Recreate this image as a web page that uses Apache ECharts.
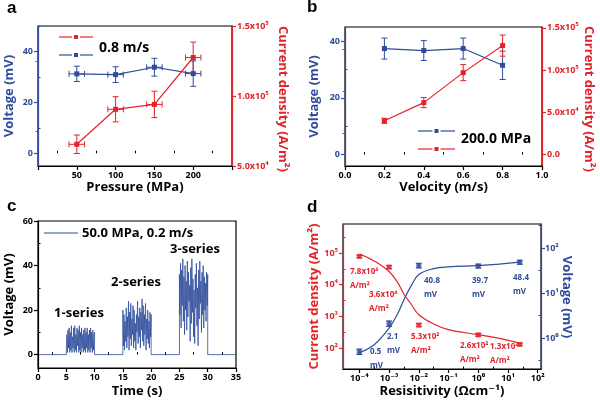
<!DOCTYPE html>
<html><head><meta charset="utf-8">
<script src="https://cdn.jsdelivr.net/npm/echarts@6.0.0/dist/echarts.min.js"></script>
<style>html,body{margin:0;padding:0;background:#fff}#c{width:600px;height:403px}</style>
</head><body><div id="c"></div><script>
// ---------- Panel a ----------
const pressure = [50, 100, 150, 200];
const pressureErr = [10, 10, 10, 10];
const voltageA = [31.2, 30.9, 33.8, 31.3];
const voltageAErr = [3.0, 3.1, 3.5, 5.0];
const currentA = [65500, 90500, 94000, 127500];
const currentAErr = [6600, 9000, 9400, 11000];
const aXLabels = [50, 100, 150, 200];
const aXTicks = [0, 50, 100, 150, 200, 250];
const aXMinor = [25, 75, 125, 175, 225];
const aLeftLabels = [0, 20, 40];
const aLeftTicks = [0, 20, 40];
const aLeftMinor = [10, 30, 50];
const aRightLabels = [50000, 100000, 150000];
const aRightMinor = [75000, 125000];

// ---------- Panel b ----------
const velocity = [0.2, 0.4, 0.6, 0.8];
const voltageB = [37.4, 36.7, 37.4, 31.5];
const voltageBErr = [3.7, 3.5, 3.7, 5.0];
const currentB = [40000, 61500, 97000, 129000];
const currentBErr = [3000, 6000, 9500, 12500];
const bXLabels = [0, 0.2, 0.4, 0.6, 0.8, 1.0];
const bXMinor = [0.1, 0.3, 0.5, 0.7, 0.9];
const bLeftLabels = [0, 20, 40];
const bLeftMinor = [10, 30];
const bRightLabels = [0, 50000, 100000, 150000];
const bRightMinor = [25000, 75000, 125000];

// ---------- Panel c ----------
const burstStarts = [5, 15, 25];
const burstEnds = [10, 20, 30];
const burst1 = [2,9,1,11,3,12,1,10,2,13,1,8,3,12,1,13,2,9,1,12,4,11,1,13,2,10,1,12,3,9,1,11,2,12,1,10,3,12,1,9,2,11,1,12,3,10,1,11,2,9,10];
const burst2 = [20,4,18,2,15,6,21,3,17,8,24,2,19,7,23,4,16,9,22,3,20,6,14,2,18,10,24,5,17,8,21,3,19,11,25,6,22,4,18,9,23,2,16,7,20,5,15,3,19,8,18];
const burst3 = [36,18,41,12,38,22,43,15,35,9,40,20,33,11,42,17,37,24,31,6,39,14,43,19,34,8,29,5,36,21,41,13,30,4,38,16,42,23,33,10,37,18,40,12,35,20,32,15,37,22,36];
const cXLabels = [0, 5, 10, 15, 20, 25, 30, 35];
const cXMinor = [2.5, 7.5, 12.5, 17.5, 22.5, 27.5, 32.5];
const cYLabels = [0, 20, 40, 60];
const cYMinor = [10, 30, 50];
const seriesNames = ['1-series', '2-series', '3-series'];

// ---------- Panel d ----------
const resistivity = [1e-4, 1e-3, 1e-2, 1, 25];
const currentD = [78000, 36000, 530, 260, 130];
const currentDErr = [7000, 4000, 60, 25, 12];
const voltageD = [0.5, 2.1, 40.8, 39.7, 48.4];
const voltageDErr = [0.07, 0.3, 5, 4, 5];
const fitX = [1e-4, 3.16e-4, 1e-3, 2e-3, 3.16e-3, 5.4e-3, 1e-2, 3.16e-2, 0.1, 1, 5.2, 27];
const fitCurrent = [93000, 56000, 26000, 11200, 5000, 2500, 1120, 575, 380, 263, 200, 138];
const fitVoltage = [0.47, 0.71, 1.66, 3.6, 7.1, 14, 25.7, 34.7, 38, 40.7, 44, 49];
const dXLabels = [1e-4, 1e-3, 1e-2, 1e-1, 1e0, 1e1, 1e2];
const dXMinor = [3.16e-4, 3.16e-3, 3.16e-2, 3.16e-1, 3.16, 31.6];
const dLeftLabels = [1e2, 1e3, 1e4, 1e5];
const dLeftMinor = [316, 3160, 31600, 316000];
const dRightLabels = [1, 10, 100];
const dRightMinor = [0.316, 3.16, 31.6, 316];

// ---------- styling ----------
const BLUE = '#2f4c9c', RED = '#e3232a', BLACK = '#000';
const FONT = '"Open Sans", "DejaVu Sans", sans-serif';
const SUP = {'-':'⁻','0':'⁰','1':'¹','2':'²','3':'³','4':'⁴','5':'⁵','6':'⁶','7':'⁷','8':'⁸','9':'⁹'};
function sup(n){ return String(n).split('').map(c => SUP[c]).join(''); }
function sciLabel(v){ if (v === 0) return '0.0'; const e = Math.floor(Math.log10(v) + 1e-9); const m = v / Math.pow(10, e); return m.toFixed(1) + 'x10' + sup(e); }
function powLabel(v){ return '10' + sup(Math.round(Math.log10(v))); }

function axisPair(o) {
  const main = {
    gridIndex: o.grid, type: o.type || 'value', min: o.min, max: o.max, position: o.pos, logBase: 10,
    axisLine: {show: true, onZero: false, lineStyle: {color: o.color, width: 1.2}},
    axisTick: {show: true, customValues: o.ticks || o.labels, length: 4, inside: false, lineStyle: {color: o.color, width: 1.2}},
    axisLabel: {show: true, customValues: o.labels, formatter: o.fmt, color: o.color, fontFamily: FONT, fontWeight: 'bold', fontSize: 9, margin: o.margin || 5},
    splitLine: {show: false},
    name: o.name, nameLocation: 'middle', nameGap: o.nameGap,
    nameTextStyle: {color: o.color, fontFamily: FONT, fontWeight: 'bold', fontSize: 13},
    z: 5
  };
  const minor = {
    gridIndex: o.grid, type: o.type || 'value', min: o.min, max: o.max, position: o.pos, logBase: 10,
    axisLine: {show: false}, axisLabel: {show: false}, splitLine: {show: false},
    axisTick: {show: true, customValues: o.minor, length: 2.5, inside: true, lineStyle: {color: o.color, width: 1}},
    z: 5
  };
  return [main, minor];
}

const xAxis = [].concat(
  axisPair({grid: 0, min: 0, max: 250, pos: 'bottom', color: BLACK, labels: aXLabels, ticks: aXTicks, minor: aXMinor, name: 'Pressure (MPa)', nameGap: 11}),
  axisPair({grid: 1, min: 0, max: 1, pos: 'bottom', color: BLACK, labels: bXLabels, minor: bXMinor, fmt: v => v.toFixed(1), name: 'Velocity (m/s)', nameGap: 11}),
  axisPair({grid: 2, min: 0, max: 35, pos: 'bottom', color: BLACK, labels: cXLabels, minor: cXMinor, name: 'Time (s)', nameGap: 17}),
  axisPair({grid: 3, type: 'log', min: 2.82e-5, max: 129, pos: 'bottom', color: BLACK, labels: dXLabels, minor: dXMinor, fmt: powLabel, name: 'Resisitivity (Ωcm⁻¹)', nameGap: 16})
);
const yAxis = [].concat(
  axisPair({grid: 0, min: -5, max: 50, pos: 'left', color: BLUE, labels: aLeftLabels, ticks: aLeftTicks, minor: aLeftMinor, name: 'Voltage (mV)', nameGap: 22}),
  axisPair({grid: 0, min: 50000, max: 150000, pos: 'right', color: RED, labels: aRightLabels, minor: aRightMinor, fmt: sciLabel}),
  axisPair({grid: 1, min: -4, max: 45, pos: 'left', color: BLUE, labels: bLeftLabels, minor: bLeftMinor, name: 'Voltage (mV)', nameGap: 24}),
  axisPair({grid: 1, min: -13500, max: 151000, pos: 'right', color: RED, labels: bRightLabels, minor: bRightMinor, fmt: sciLabel}),
  axisPair({grid: 2, min: -6, max: 60, pos: 'left', color: BLACK, labels: cYLabels, minor: cYMinor, name: 'Voltage (mV)', nameGap: 22}),
  axisPair({grid: 3, type: 'log', min: 21.7, max: 824000, pos: 'left', color: RED, labels: dLeftLabels, minor: dLeftMinor, fmt: powLabel, name: 'Current density (A/m²)', nameGap: 22}),
  axisPair({grid: 3, type: 'log', min: 0.205, max: 341, pos: 'right', color: BLUE, labels: dRightLabels, minor: dRightMinor, fmt: powLabel, margin: 4})
);

function errSeries(xi, yi, pts, color) {
  return {
    type: 'custom', xAxisIndex: xi, yAxisIndex: yi, data: pts, silent: true, z: 3,
    encode: {x: 0, y: 1},
    renderItem: function (params, api) {
      const x = api.value(0), y = api.value(1), ex = api.value(2), ey = api.value(3);
      const st = {stroke: color, lineWidth: 1, fill: null};
      const ch = [];
      const cap = 3;
      if (ey > 0) {
        const p1 = api.coord([x, y - ey]), p2 = api.coord([x, y + ey]);
        ch.push({type: 'line', shape: {x1: p1[0], y1: p1[1], x2: p2[0], y2: p2[1]}, style: st});
        ch.push({type: 'line', shape: {x1: p1[0] - cap, y1: p1[1], x2: p1[0] + cap, y2: p1[1]}, style: st});
        ch.push({type: 'line', shape: {x1: p2[0] - cap, y1: p2[1], x2: p2[0] + cap, y2: p2[1]}, style: st});
      }
      if (ex > 0) {
        const q1 = api.coord([x - ex, y]), q2 = api.coord([x + ex, y]);
        ch.push({type: 'line', shape: {x1: q1[0], y1: q1[1], x2: q2[0], y2: q2[1]}, style: st});
        ch.push({type: 'line', shape: {x1: q1[0], y1: q1[1] - cap, x2: q1[0], y2: q1[1] + cap}, style: st});
        ch.push({type: 'line', shape: {x1: q2[0], y1: q2[1] - cap, x2: q2[0], y2: q2[1] + cap}, style: st});
      }
      return {type: 'group', children: ch};
    }
  };
}
function lineSeries(xi, yi, xs, ys, color, extra) {
  return Object.assign({
    type: 'line', xAxisIndex: xi, yAxisIndex: yi, data: xs.map((x, i) => [x, ys[i]]),
    symbol: 'rect', symbolSize: 5, showSymbol: true, itemStyle: {color: color},
    lineStyle: {color: color, width: 1.2}, silent: true, z: 4
  }, extra || {});
}

// panel c signal assembled from bursts
const signal = [[0, 0]];
[burst1, burst2, burst3].forEach((b, k) => {
  const s = burstStarts[k], e = burstEnds[k];
  signal.push([s, 0]);
  b.forEach((v, i) => signal.push([s + (e - s) * i / (b.length - 1), v]));
  signal.push([e, 0]);
});
signal.push([35, 0]);

const series = [
  errSeries(0, 0, pressure.map((x, i) => [x, voltageA[i], pressureErr[i], voltageAErr[i]]), BLUE),
  lineSeries(0, 0, pressure, voltageA, BLUE),
  errSeries(0, 2, pressure.map((x, i) => [x, currentA[i], pressureErr[i], currentAErr[i]]), RED),
  lineSeries(0, 2, pressure, currentA, RED),

  errSeries(2, 4, velocity.map((x, i) => [x, voltageB[i], 0, voltageBErr[i]]), BLUE),
  lineSeries(2, 4, velocity, voltageB, BLUE),
  errSeries(2, 6, velocity.map((x, i) => [x, currentB[i], 0, currentBErr[i]]), RED),
  lineSeries(2, 6, velocity, currentB, RED),

  {type: 'line', xAxisIndex: 4, yAxisIndex: 8, data: signal, showSymbol: false, symbol: 'none',
   lineStyle: {color: BLUE, width: 0.8}, silent: true, z: 4},

  lineSeries(6, 10, fitX, fitCurrent, RED, {smooth: 0.4, showSymbol: false, symbol: 'none'}),
  lineSeries(6, 12, fitX, fitVoltage, BLUE, {smooth: 0.4, showSymbol: false, symbol: 'none'}),
  errSeries(6, 10, resistivity.map((x, i) => [x, currentD[i], 0, currentDErr[i]]), RED),
  errSeries(6, 12, resistivity.map((x, i) => [x, voltageD[i], 0, voltageDErr[i]]), BLUE),
  {type: 'scatter', xAxisIndex: 6, yAxisIndex: 10, data: resistivity.map((x, i) => [x, currentD[i]]), symbol: 'rect', symbolSize: 5, itemStyle: {color: RED}, silent: true, z: 5},
  {type: 'scatter', xAxisIndex: 6, yAxisIndex: 12, data: resistivity.map((x, i) => [x, voltageD[i]]), symbol: 'rect', symbolSize: 5, itemStyle: {color: BLUE}, silent: true, z: 5}
];

// ---------- text & legend decorations ----------
const graphic = [];
function txt(t, x, y, o) {
  o = o || {};
  graphic.push({type: 'text', x: x, y: y, z: 10, silent: true, rotation: o.rot || 0, style: {text: t, fill: o.color || BLACK,
    font: (o.weight || 'bold') + ' ' + (o.size || 13) + 'px ' + (o.family || FONT), align: o.align || 'left', verticalAlign: o.va || 'middle', lineHeight: o.lh}});
}
function legendSample(x1, x2, y, color, withMarker) {
  if (withMarker) {
    const mid = (x1 + x2) / 2;
    graphic.push({type: 'line', silent: true, z: 10, shape: {x1: x1, y1: y, x2: mid - 4, y2: y}, style: {stroke: color, lineWidth: 1.2}});
    graphic.push({type: 'line', silent: true, z: 10, shape: {x1: mid + 4, y1: y, x2: x2, y2: y}, style: {stroke: color, lineWidth: 1.2}});
    graphic.push({type: 'rect', silent: true, z: 10, shape: {x: mid - 2, y: y - 2, width: 4, height: 4}, style: {fill: color}});
  } else {
    graphic.push({type: 'line', silent: true, z: 10, shape: {x1: x1, y1: y, x2: x2, y2: y}, style: {stroke: color, lineWidth: 1.2}});
  }
}
// right-hand axis titles (read top to bottom); with -90° rotation the text body lies left of x
txt('Current density (A/m²)', 289, 99, {size: 13, color: RED, align: 'center', va: 'top', rot: -Math.PI / 2});
txt('Current density (A/m²)', 595, 99, {size: 13, color: RED, align: 'center', va: 'top', rot: -Math.PI / 2});
txt('Voltage (mV)', 573, 297, {size: 13, color: BLUE, align: 'center', va: 'top', rot: -Math.PI / 2});
// panel letters
txt('a', 7, 8, {size: 17, family: '"Liberation Sans", Arial, sans-serif'});
txt('b', 307, 7, {size: 17, family: '"Liberation Sans", Arial, sans-serif'});
txt('c', 7, 206, {size: 17, family: '"Liberation Sans", Arial, sans-serif'});
txt('d', 307, 207, {size: 17, family: '"Liberation Sans", Arial, sans-serif'});
// panel a legend
legendSample(59, 93, 37, RED, true);
legendSample(59, 93, 55, BLUE, true);
txt('0.8 m/s', 99, 48, {size: 14});
// panel b legend
legendSample(418, 455, 131, BLUE, true);
legendSample(418, 455, 149, RED, true);
txt('200.0 MPa', 461, 139, {size: 14});
// panel c legend & labels
legendSample(44, 78, 233, BLUE, false);
txt('50.0 MPa, 0.2 m/s', 82, 233, {size: 13});
const seriesLabelPos = [[79, 313], [136, 282], [195, 249]];
seriesNames.forEach((n, i) => txt(n, seriesLabelPos[i][0], seriesLabelPos[i][1], {size: 13, align: 'center'}));
// panel d annotations
const dRedLabelPos = [[350, 265], [369, 287.5], [411, 330], [460, 339], [490, 340]];
const dBlueLabelPos = [[370, 344.5], [387, 329.5], [424, 273.5], [472, 273.5], [513, 271]];
currentD.forEach((v, i) => txt(sciLabel(v) + '\nA/m²', dRedLabelPos[i][0], dRedLabelPos[i][1], {size: 8, color: RED, va: 'top', lh: 14}));
voltageD.forEach((v, i) => txt(v.toFixed(1) + '\nmV', dBlueLabelPos[i][0], dBlueLabelPos[i][1], {size: 8, color: BLUE, va: 'top', lh: 14}));

const gridBase = {show: true, borderColor: BLACK, borderWidth: 1.2, backgroundColor: 'transparent', containLabel: false};
const option = {
  animation: false,
  backgroundColor: '#fff',
  grid: [
    Object.assign({left: 38, top: 26, width: 194, height: 140}, gridBase),
    Object.assign({left: 345, top: 27, width: 197, height: 139}, gridBase),
    Object.assign({left: 38, top: 221, width: 198, height: 147}, gridBase),
    Object.assign({left: 343, top: 224, width: 198, height: 145}, gridBase)
  ],
  xAxis: xAxis,
  yAxis: yAxis,
  series: series,
  graphic: graphic
};
const chart = echarts.init(document.getElementById('c'), null, {renderer: 'canvas'});
chart.setOption(option);
</script></body></html>
